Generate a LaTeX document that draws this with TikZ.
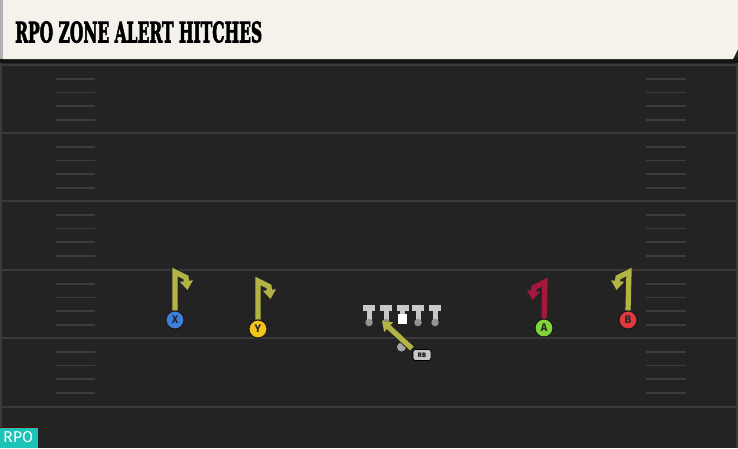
\documentclass[tikz,border=0pt]{standalone}
\usepackage{fontspec}
\setsansfont{Fira Sans}
\newfontfamily\titlefont[FakeBold=3]{DejaVu Serif}
\usetikzlibrary{arrows.meta}
\definecolor{fieldbg}{HTML}{232323}
\definecolor{yardc}{HTML}{3A3A3A}
\definecolor{hashc}{HTML}{3C3C3C}
\definecolor{headbg}{HTML}{F4F2EB}
\definecolor{olivec}{HTML}{B4B444}
\definecolor{crimsonc}{HTML}{A5173C}
\definecolor{bluec}{HTML}{3F7FDB}
\definecolor{yellowc}{HTML}{F4C419}
\definecolor{greenc}{HTML}{7FD43C}
\definecolor{redc}{HTML}{E0393E}
\definecolor{tealc}{HTML}{1CC3B6}
\definecolor{olc}{HTML}{C8C8C8}
\tikzset{
  player/.style={circle, draw=black!90, line width=1pt, minimum size=18pt, inner sep=0pt,
    font=\sffamily\bfseries\fontsize{11}{11}\selectfont, text=black!85},
  routeout/.style={line width=7.2pt, draw=black!85, line join=miter, -{Triangle[length=11pt,width=15pt]}},
  routein/.style={line width=5.2pt, line join=miter, -{Triangle[length=9pt,width=12.5pt]}},
  yard/.style={draw=yardc, line width=2pt},
  hashm/.style={draw=hashc, line width=1.6pt},
  rbbox/.style={rounded corners=2.5pt, fill=gray!45, draw=black, line width=0.7pt, minimum width=18pt,
    minimum height=11pt, inner sep=0pt, font=\sffamily\bfseries\fontsize{6.5}{6.5}\selectfont},
}
\begin{document}
\begin{tikzpicture}[x=1pt,y=-1pt]
\useasboundingbox (0,0) rectangle (738,448);
% field
\fill[fieldbg] (0,0) rectangle (738,448);
\draw[yardc, line width=1.5pt] (1,60) -- (1,448);
\draw[yardc, line width=1.5pt] (737,60) -- (737,448);
% yard lines
\foreach \y in {65,133,201,270,338,407} {
  \draw[yard] (0,\y) -- (738,\y);
}
% hash marks
\foreach \y in {65,133,201,270,338} {
  \foreach \d in {13.7,27.4,41.1,54.8} {
    \draw[hashm] (56,\y+\d) -- (95,\y+\d);
    \draw[hashm] (646,\y+\d) -- (686,\y+\d);
  }
}
% header
\fill[black!92] (0,58) rectangle (738,63);
\fill[headbg] (3,0) -- (738,0) -- (738,49) -- (733,59) -- (3,59) -- cycle;
\fill[gray!60] (0,0) rectangle (3,59);
\node[anchor=south west, inner sep=0pt] (title) at (15,43)
  {\resizebox{247pt}{21pt}{\titlefont\bfseries RPO ZONE ALERT HITCHES}};
% RPO tag
\fill[tealc] (0,427) rectangle (38,448);
\draw[red!40!black, line width=0.8pt] (0,427.4) -- (38,427.4);
\node[anchor=south west, inner sep=0pt, text=white] (tag) at (3,443)
  {\resizebox{30pt}{11pt}{\sffamily RPO}};
% offensive line
\foreach \n/\x in {lt/369, lg/386, rg/418, rt/435} {
  \fill[olc] (\x-6,305) rectangle (\x+6,311);
  \fill[olc] (\x-2.5,310) rectangle (\x+2.5,321);
  \node[circle, fill=gray!85, minimum size=7.5pt, inner sep=0pt] (\n) at (\x,322.5) {};
}
\fill[olc] (396.5,305) rectangle (408.5,311);
\fill[olc] (400,310) rectangle (405,315);
\node[rectangle, fill=white, minimum size=9.5pt, inner sep=0pt] (c) at (402.5,319) {};
% QB
\node[circle, fill=gray!70, minimum size=9pt, inner sep=0pt] (qb) at (401.5,347) {};
% RB
\node[rbbox] (rb) at (422,355) {RB};
\coordinate (rbend) at (382,321);
\draw[routeout, shorten <=1pt] (rb.north west) -- (rbend);
\draw[routein, olivec, shorten <=1pt] (rb.north west) -- (rbend);
\node[rbbox] at (rb) {RB};
% receivers
\node[player, fill=bluec] (x) at (175,320) {X};
\node[player, fill=yellowc] (y) at (258,329) {Y};
\node[player, fill=greenc] (a) at (544,328) {A};
\node[player, fill=redc] (b) at (628,320) {B};
% routes
\coordinate (xt) at (175,272); \coordinate (xh) at (186,277.5); \coordinate (xe) at (187.5,290);
\coordinate (yt) at (258,281); \coordinate (yh) at (269,286.5); \coordinate (ye) at (270.5,299);
\coordinate (at) at (545,282); \coordinate (ah) at (534,287.5); \coordinate (ae) at (532.5,300);
\coordinate (bt) at (629,272); \coordinate (bh) at (618,277.5); \coordinate (be) at (616.5,290);
\foreach \p/\q/\r/\s/\c in {x/xt/xh/xe/olivec, y/yt/yh/ye/olivec, a/at/ah/ae/crimsonc, b/bt/bh/be/olivec} {
  \draw[routeout] (\p.north) -- (\q) -- (\r) -- (\s);
  \draw[routein, \c] (\p.north) -- (\q) -- (\r) -- (\s);
}
% redraw players on top
\node[player, fill=bluec] at (x) {X};
\node[player, fill=yellowc] at (y) {Y};
\node[player, fill=greenc] at (a) {A};
\node[player, fill=redc] at (b) {B};
\end{tikzpicture}
\end{document}
